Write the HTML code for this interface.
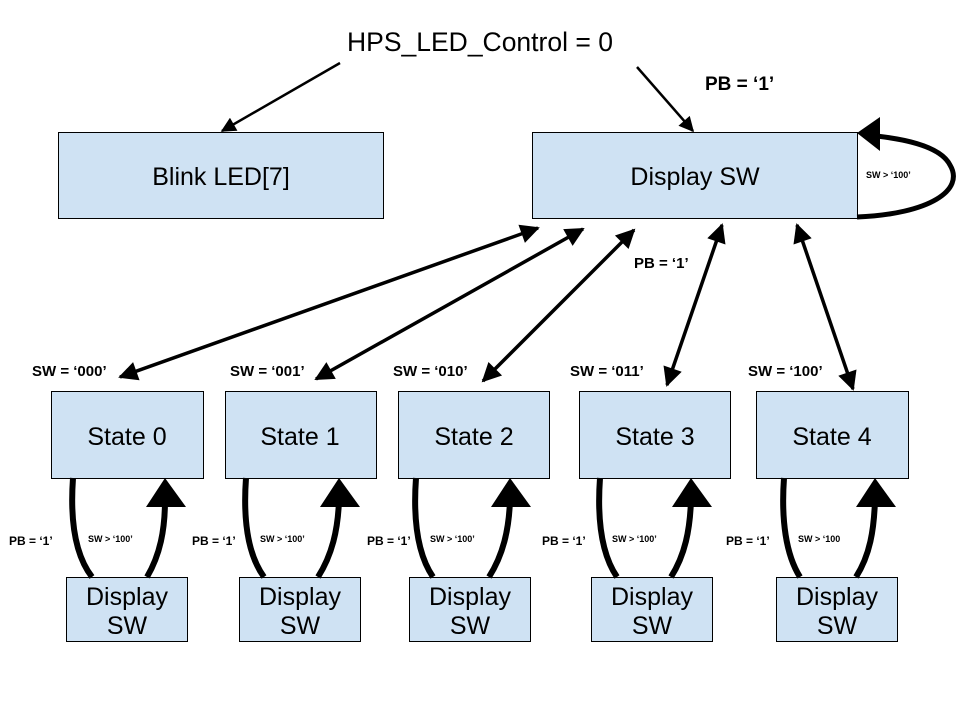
<!DOCTYPE html>
<html><head><meta charset="utf-8"><style>
html,body{margin:0;padding:0;background:#fff;}
svg{display:block;font-family:"Liberation Sans",Arial,sans-serif;}
</style></head><body>
<svg width="960" height="720" viewBox="0 0 960 720" xmlns="http://www.w3.org/2000/svg">
<defs>
<marker id="a" viewBox="0 0 10 10" refX="9" refY="5" markerWidth="6" markerHeight="5.5" markerUnits="strokeWidth" orient="auto-start-reverse"><path d="M0,0 L10,5 L0,10 z" fill="#000"/></marker>
<marker id="t" viewBox="0 0 10 10" refX="9" refY="5" markerWidth="7" markerHeight="6" markerUnits="strokeWidth" orient="auto-start-reverse"><path d="M0,0 L10,5 L0,10 z" fill="#000"/></marker>
<marker id="s" viewBox="0 0 10 10" refX="9" refY="5" markerWidth="5" markerHeight="7" markerUnits="strokeWidth" orient="auto-start-reverse"><path d="M0,0 L10,5 L0,10 z" fill="#000"/></marker>
</defs>
<rect width="960" height="720" fill="#fff"/>
<g fill="#cfe2f3" stroke="#000" stroke-width="1">
<rect x="58.5" y="132.5" width="325" height="86"/>
<rect x="532.5" y="132.5" width="325" height="86"/>
<rect x="51.5" y="391.5" width="152" height="87"/>
<rect x="225.5" y="391.5" width="151" height="87"/>
<rect x="398.5" y="391.5" width="151" height="87"/>
<rect x="579.5" y="391.5" width="151" height="87"/>
<rect x="756.5" y="391.5" width="152" height="87"/>
<rect x="66.5" y="577.5" width="121" height="64"/>
<rect x="239.5" y="577.5" width="121" height="64"/>
<rect x="409.5" y="577.5" width="121" height="64"/>
<rect x="591.5" y="577.5" width="121" height="64"/>
<rect x="776.5" y="577.5" width="121" height="64"/>
</g>
<g fill="#000" font-size="25" text-anchor="middle">
<text x="480" y="51" font-size="26.5">HPS_LED_Control = 0</text>
<text x="221" y="185">Blink LED[7]</text>
<text x="695" y="185">Display SW</text>
<text x="127" y="445">State 0</text>
<text x="300" y="445">State 1</text>
<text x="474" y="445">State 2</text>
<text x="655" y="445">State 3</text>
<text x="832" y="445">State 4</text>
<text x="127" y="605">Display</text><text x="127" y="634">SW</text>
<text x="300" y="605">Display</text><text x="300" y="634">SW</text>
<text x="470" y="605">Display</text><text x="470" y="634">SW</text>
<text x="652" y="605">Display</text><text x="652" y="634">SW</text>
<text x="837" y="605">Display</text><text x="837" y="634">SW</text>
</g>
<g fill="#000" font-weight="bold" font-size="15">
<text x="705" y="90" font-size="19">PB = ‘1’</text>
<text x="634" y="268">PB = ‘1’</text>
<text x="32" y="376">SW = ‘000’</text>
<text x="230" y="376">SW = ‘001’</text>
<text x="393" y="376">SW = ‘010’</text>
<text x="570" y="376">SW = ‘011’</text>
<text x="748" y="376">SW = ‘100’</text>
<g font-size="12">
<text x="9" y="545">PB = ‘1’</text>
<text x="192" y="545">PB = ‘1’</text>
<text x="367" y="545">PB = ‘1’</text>
<text x="542" y="545">PB = ‘1’</text>
<text x="726" y="545">PB = ‘1’</text>
</g>
<g font-size="9">
<text x="88" y="542">SW &gt; ‘100’</text>
<text x="260" y="542">SW &gt; ‘100’</text>
<text x="430" y="542">SW &gt; ‘100’</text>
<text x="612" y="542">SW &gt; ‘100’</text>
<text x="798" y="542">SW &gt; ‘100</text>
<text x="866" y="178">SW &gt; ‘100’</text>
</g>
</g>
<g stroke="#000" fill="none">
<line x1="340" y1="63" x2="222" y2="131" stroke-width="2.5" marker-end="url(#t)"/>
<line x1="637" y1="67" x2="693" y2="131" stroke-width="2.5" marker-end="url(#t)"/>
<g stroke-width="3.5">
<line x1="120" y1="377" x2="538" y2="228" marker-start="url(#a)" marker-end="url(#a)"/>
<line x1="316" y1="379" x2="583" y2="229" marker-start="url(#a)" marker-end="url(#a)"/>
<line x1="483" y1="381" x2="634" y2="230" marker-start="url(#a)" marker-end="url(#a)"/>
<line x1="667" y1="385" x2="722" y2="225" marker-start="url(#a)" marker-end="url(#a)"/>
<line x1="853" y1="389" x2="797" y2="225" marker-start="url(#a)" marker-end="url(#a)"/>
</g>
<path d="M857,217 C930,214 965,190 950,165 C940,145 900,138 866,135" stroke-width="5"/>
<polygon points="857,133 880,117 880,151" fill="#000" stroke="none"/>
<g stroke-width="6">
<path d="M73,478 C70,520 75,555 92,577"/>
<path d="M147,577 C160,555 165,530 165,500"/>
<path d="M246,478 C243,520 248,555 264,577"/>
<path d="M318,577 C332,555 338,530 339,500"/>
<path d="M416,478 C413,520 418,555 433,577"/>
<path d="M489,577 C503,555 509,530 510,500"/>
<path d="M600,478 C597,520 602,555 617,577"/>
<path d="M671,577 C685,555 690,530 691,500"/>
<path d="M784,478 C781,520 786,555 800,577"/>
<path d="M856,577 C870,555 874,530 875,500"/>
</g>
<g fill="#000" stroke="none">
<polygon points="165,478 146,507 186,507"/>
<polygon points="339,478 320,507 360,507"/>
<polygon points="510,478 491,507 531,507"/>
<polygon points="691,478 672,507 712,507"/>
<polygon points="875,478 856,507 896,507"/>
</g>
</g>
</svg>
</body></html>
